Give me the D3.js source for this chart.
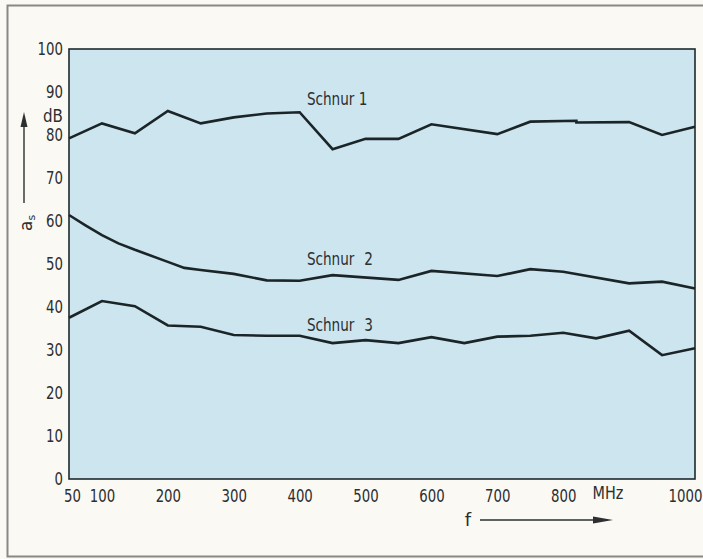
<!DOCTYPE html>
<html>
<head>
<meta charset="utf-8">
<script src="https://cdn.jsdelivr.net/npm/d3@7"></script>
<style>
  html, body { margin: 0; padding: 0; background: #fbf9f4; }
  svg { display: block; }
  text { font-family: "DejaVu Sans", sans-serif; fill: #2b2f30; }
</style>
</head>
<body>
<svg id="chart" width="703" height="559"></svg>
<script>
// ---- data ----
const xTicks = [50, 100, 200, 300, 400, 500, 600, 700, 800, 1000];
const yTicks = [0, 10, 20, 30, 40, 50, 60, 70, 80, 90, 100];

const freq1   = [50, 100, 150, 200, 250, 300, 350, 400, 450, 500, 550, 600, 700, 750, 820, 820, 900, 950, 1000];
const schnur1 = [79.2, 82.7, 80.4, 85.6, 82.7, 84.1, 85.0, 85.3, 76.7, 79.1, 79.1, 82.5, 80.2, 83.1, 83.3, 82.9, 83.0, 80.0, 81.9];

const freq2   = [50, 75, 100, 125, 150, 200, 225, 250, 300, 350, 400, 450, 550, 600, 700, 750, 800, 900, 950, 1000];
const schnur2 = [61.4, 59.0, 56.7, 54.8, 53.3, 50.5, 49.1, 48.6, 47.7, 46.2, 46.1, 47.4, 46.3, 48.4, 47.2, 48.8, 48.2, 45.5, 45.9, 44.3];

const freq3   = [50, 100, 150, 200, 250, 300, 350, 400, 450, 500, 550, 600, 650, 700, 750, 800, 850, 900, 950, 1000];
const schnur3 = [37.5, 41.4, 40.2, 35.7, 35.4, 33.5, 33.3, 33.3, 31.6, 32.3, 31.6, 33.0, 31.6, 33.1, 33.3, 34.0, 32.7, 34.5, 28.8, 30.4];

const seriesNames = ["Schnur 1", "Schnur 2", "Schnur 3"];
const labelPos = [[411, 87.0], [411, 49.8], [411, 34.4]]; // [MHz, dB] left/baseline of labels

// ---- layout ----
const svg = d3.select("#chart");
const L = 69, R = 695, T = 49, B = 479;

const x = d3.scaleLinear().domain([50, 1000]).range([L, R]);
const y = d3.scaleLinear().domain([0, 100]).range([B, T]);

// condensed look: squeeze glyphs horizontally around the text's own anchor
function condense(sel, ratio) {
  sel.each(function () {
    const t = d3.select(this);
    const tx = +t.attr("x") || 0, ty = +t.attr("y") || 0;
    const dx = +t.attr("dx") || 0;
    t.attr("x", 0).attr("y", 0).attr("dx", dx / ratio)
     .attr("transform", `translate(${tx},${ty}) scale(${ratio},1)`);
  });
}

// page frame
svg.append("rect").attr("width", 703).attr("height", 559).attr("fill", "#fbf9f4");
svg.append("path")
  .attr("d", "M703,5.5 H7.5 V556.5 H703")
  .attr("fill", "none").attr("stroke", "#8a8784").attr("stroke-width", 2);

// plot area
svg.append("rect")
  .attr("x", L).attr("y", T).attr("width", R - L).attr("height", B - T)
  .attr("fill", "#cce5ef");

// axes (labels only, no tick marks)
const gx = svg.append("g").attr("transform", `translate(0,${B})`)
  .call(d3.axisBottom(x).tickValues(xTicks).tickSize(0).tickPadding(10).tickFormat(d3.format("d")));
gx.select(".domain").remove();
gx.selectAll("text").attr("font-size", 18).style("fill", "#2b2f30")
  .attr("dx", d => d === 1000 ? -10 : (d === 50 ? 3 : 0))
  .call(condense, 0.74);

const gy = svg.append("g").attr("transform", `translate(${L},0)`)
  .call(d3.axisLeft(y).tickValues(yTicks).tickSize(0).tickPadding(6).tickFormat(d3.format("d")));
gy.select(".domain").remove();
gy.selectAll("text").attr("font-size", 18).style("fill", "#2b2f30")
  .call(condense, 0.74);

// plot border
svg.append("rect")
  .attr("x", L).attr("y", T).attr("width", R - L).attr("height", B - T)
  .attr("fill", "none").attr("stroke", "#1d2a2e").attr("stroke-width", 1.6);

// lines
const line = d3.line().x(d => x(d[0])).y(d => y(d[1])).curve(d3.curveLinear);
const data = [
  d3.zip(freq1, schnur1),
  d3.zip(freq2, schnur2),
  d3.zip(freq3, schnur3)
];
svg.append("g").selectAll("path").data(data).join("path")
  .attr("d", line)
  .attr("fill", "none").attr("stroke", "#1b2527").attr("stroke-width", 2.6)
  .attr("stroke-linejoin", "miter");

// series labels
svg.append("g").selectAll("text").data(seriesNames).join("text")
  .attr("x", (d, i) => x(labelPos[i][0]))
  .attr("y", (d, i) => y(labelPos[i][1]))
  .attr("font-size", 17)
  .attr("word-spacing", (d, i) => i === 0 ? 0 : 7)
  .text(d => d)
  .call(condense, 0.8);

// unit dB
svg.append("text").attr("x", 63).attr("y", 122).attr("text-anchor", "end")
  .attr("font-size", 18).text("dB").call(condense, 0.84);

// y axis title a_s with arrow
const yt = svg.append("text").attr("transform", "translate(32,231) rotate(-90)")
  .attr("font-size", 17);
yt.append("tspan").text("a");
yt.append("tspan").attr("font-size", 11).attr("dy", 3).text("s");

svg.append("line").attr("x1", 24).attr("x2", 24).attr("y1", 203).attr("y2", 124)
  .attr("stroke", "#2b2f30").attr("stroke-width", 1.4);
svg.append("path").attr("d", "M24,112 L20.5,127 L27.5,127 Z").attr("fill", "#2b2f30");

// x axis title f with arrow
svg.append("text").attr("x", 468).attr("y", 526).attr("text-anchor", "middle")
  .attr("font-size", 18).text("f");
svg.append("line").attr("x1", 480).attr("x2", 596).attr("y1", 520).attr("y2", 520)
  .attr("stroke", "#2b2f30").attr("stroke-width", 1.4);
svg.append("path").attr("d", "M613,520 L593,516.5 L593,523.5 Z").attr("fill", "#2b2f30");

// unit MHz
svg.append("text").attr("x", 608).attr("y", 499).attr("text-anchor", "middle")
  .attr("font-size", 18).text("MHz").call(condense, 0.8);
</script>
</body>
</html>
